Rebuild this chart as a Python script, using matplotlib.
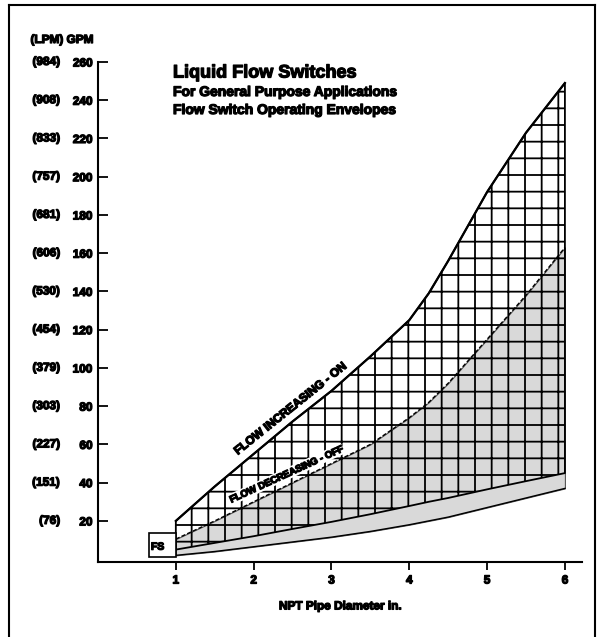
import matplotlib
matplotlib.use("Agg")
import matplotlib.pyplot as plt
import matplotlib.patheffects as pe
from matplotlib.lines import Line2D
from matplotlib.patches import Rectangle

plt.rcParams['font.family'] = ['Liberation Sans', 'DejaVu Sans']
plt.rcParams['hatch.linewidth'] = 1.3

# pipe size (in) and flow (GPM) along the envelopes
pipe_in = [1, 1.5, 2, 2.5, 3, 3.5, 4, 4.25, 4.5, 5, 5.5, 6]
flow_on = [20, 38, 55, 72, 88, 106, 125, 139, 156, 192, 223, 249]
flow_off = [10.5, 20, 30, 40, 50, 60, 74, 82, 92, 115, 138, 163]
on_low = [5, 8.5, 12, 15.8, 19.5, 23.5, 27.8, 30, 32, 36.5, 40.8, 45]
off_low = [2, 4, 6.5, 9, 11.5, 14.5, 18, 20, 22, 27, 32, 37]

gpm_ticks = [20, 40, 60, 80, 100, 120, 140, 160, 180, 200, 220, 240, 260]
lpm_labels = ['(76)', '(151)', '(227)', '(303)', '(379)', '(454)', '(530)',
              '(606)', '(681)', '(757)', '(833)', '(908)', '(984)']
x_ticks = [1, 2, 3, 4, 5, 6]

heavy = [pe.withStroke(linewidth=0.9, foreground='black')]

fig = plt.figure(figsize=(5.98, 6.37), dpi=100)
ax = fig.add_axes([0.1639, 0.1177, 0.8094, 0.785])

# grey band: flow decreasing - off
ax.fill_between(pipe_in, off_low, flow_off, facecolor='#d9d9d9',
                edgecolor='#555555', linewidth=0.8, zorder=1)
# cross-hatched band: flow increasing - on
ax.fill_between(pipe_in, on_low, flow_on, facecolor='none', edgecolor='black',
                hatch='+', linewidth=1.3, zorder=2)
ax.plot(pipe_in, flow_on, color='black', lw=1.6, zorder=3)
ax.plot(pipe_in, flow_off, color='black', lw=1.0, ls=(0, (3, 1.5)), zorder=3)
ax.plot(pipe_in, off_low, color='black', lw=1.0, zorder=3)

ax.text(2.47, 78.4, 'FLOW INCREASING - ON', rotation=38.7, rotation_mode='anchor',
        ha='center', va='center', fontsize=8.5, weight='bold', zorder=4,
        path_effects=heavy, bbox=dict(facecolor='white', edgecolor='none', pad=0.5))
ax.text(2.42, 44.4, 'FLOW DECREASING - OFF', rotation=24.7, rotation_mode='anchor',
        ha='center', va='center', fontsize=7, weight='bold', zorder=4,
        path_effects=heavy, bbox=dict(facecolor='white', edgecolor='none', pad=0.5))

# small tag box at the 1 in. start
ax.add_patch(Rectangle((0.65, 1), 0.35, 12.6, facecolor='white',
                       edgecolor='black', lw=1.2, zorder=5, clip_on=False))
ax.text(0.68, 6.5, 'FS', fontsize=7.5, weight='heavy', va='center', ha='left',
        zorder=6, path_effects=heavy)

ax.set_xlim(0, 6.22)
ax.set_ylim(-1.5, 260)
ax.spines['top'].set_visible(False)
ax.spines['right'].set_visible(False)
ax.spines['left'].set_linewidth(1.5)
ax.spines['bottom'].set_linewidth(1.5)

ax.set_yticks(gpm_ticks)
ax.set_yticklabels([str(v) for v in gpm_ticks], fontsize=8.5, weight='bold')
ax.tick_params(axis='y', direction='in', length=7, width=1.3, pad=4)
for v, lab in zip(gpm_ticks, lpm_labels):
    ax.text(-0.0785, v, lab, transform=ax.get_yaxis_transform(), ha='right',
            va='center', fontsize=8.5, weight='bold', path_effects=heavy)

ax.set_xticks(x_ticks)
ax.set_xticklabels([str(v) for v in x_ticks], fontsize=8.5, weight='bold')
ax.tick_params(axis='x', direction='out', length=6, width=1.3, pad=3)
for t in ax.get_xticklabels() + ax.get_yticklabels():
    t.set_path_effects(heavy)
ax.set_xlabel('NPT Pipe Diameter in.', fontsize=8.5, weight='bold', labelpad=10,
              path_effects=heavy)

fig.text(93 / 598, 1 - 40 / 637, '(LPM) GPM', ha='right', va='center',
         fontsize=8.5, weight='bold', path_effects=heavy)
fig.text(173 / 598, 1 - 73 / 637, 'Liquid Flow Switches', ha='left', va='center',
         fontsize=13, weight='bold', path_effects=heavy)
fig.text(173 / 598, 1 - 92 / 637, 'For General Purpose Applications', ha='left',
         va='center', fontsize=10, weight='bold', path_effects=heavy)
fig.text(173 / 598, 1 - 110 / 637, 'Flow Switch Operating Envelopes', ha='left',
         va='center', fontsize=10, weight='bold', path_effects=heavy)

# outer frame
l, r, t, b = 9 / 598, 595 / 598, 1 - 5 / 637, -0.01
for xs, ys in [([l, l], [b, t]), ([l, r], [t, t]), ([r, r], [t, b])]:
    fig.add_artist(Line2D(xs, ys, transform=fig.transFigure, color='black', lw=1.5))

fig.savefig('out.png', dpi=100)
